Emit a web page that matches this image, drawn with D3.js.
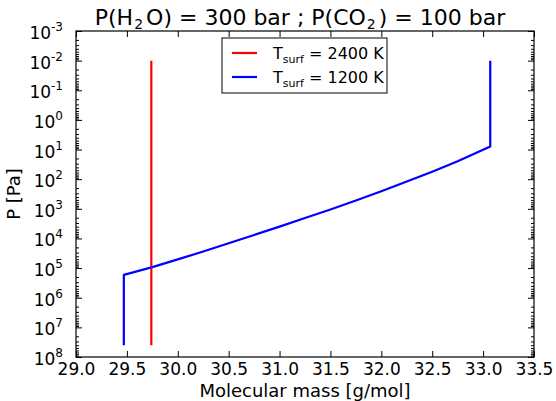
<!doctype html>
<html lang="en">
<head>
    <meta charset="utf-8" />
    <title>Molecular mass profile</title>
    <script src="https://d3js.org/d3.v7.min.js"></script>
    <style>
        body { margin: 0; background: #fff; }
        text { font-family: "DejaVu Sans", sans-serif; fill: #000; }
    </style>
</head>
<body>

<script>
// Tsurf = 2400 K : constant molecular mass
let hotMass = [29.74, 29.74]
let hotP    = [1e-2, 4e7]

// Tsurf = 1200 K : well mixed at depth, rising mass towards top
let coldMass = [29.47, 29.47, 29.75, 30.0, 30.25, 30.5, 30.75, 31.0, 31.25, 31.5, 31.75, 32.0, 32.25, 32.5, 32.75, 33.07, 33.07]
let coldP    = [4e7, 1.7e5, 9.3e4, 5.1e4, 2.75e4, 1.45e4, 7.6e3, 4.0e3, 2.05e3, 1.05e3, 525, 257, 120, 56, 25, 7.9, 1e-2]

let xTicks = [29.0, 29.5, 30.0, 30.5, 31.0, 31.5, 32.0, 32.5, 33.0, 33.5]
let yExps  = [-3, -2, -1, 0, 1, 2, 3, 4, 5, 6, 7, 8]

let width = 556,
    height = 401,
    pl = 76, pr = 534, pt = 31, pb = 357;

let svg = d3.select("body").append("svg")
    .attr("width", width)
    .attr("height", height);

let x = d3.scaleLinear().domain([29, 33.5]).range([pl, pr])
let y = d3.scaleLog().domain([1e-3, 1e8]).range([pt, pb])

// minor ticks for the log axis
let minor = []
yExps.slice(0, -1).forEach(e => {
    for (let k = 2; k < 10; k++) minor.push(k * Math.pow(10, e))
})

let axes = svg.append("g")

function styleAxis(g) {
    g.select(".domain").remove()
    g.selectAll("line").attr("stroke", "#000").attr("stroke-width", 1)
}

// x axes, ticks pointing inward
axes.append("g")
    .attr("transform", `translate(0,${pb})`)
    .call(d3.axisBottom(x).tickValues(xTicks).tickSize(-6).tickPadding(6).tickFormat(d3.format(".1f")))
    .call(styleAxis)
    .selectAll("text").style("font-size", "17px").attr("font-family", null);
axes.append("g")
    .attr("transform", `translate(0,${pt})`)
    .call(d3.axisTop(x).tickValues(xTicks).tickSize(-6).tickFormat(""))
    .call(styleAxis);

// y axes, major + minor
let yMajor = yExps.map(e => Math.pow(10, e))
axes.append("g").attr("transform", `translate(${pl},0)`)
    .call(d3.axisLeft(y).tickValues(yMajor).tickSize(-6).tickFormat(""))
    .call(styleAxis);
axes.append("g").attr("transform", `translate(${pl},0)`)
    .call(d3.axisLeft(y).tickValues(minor).tickSize(-3).tickFormat(""))
    .call(styleAxis);
axes.append("g").attr("transform", `translate(${pr},0)`)
    .call(d3.axisRight(y).tickValues(yMajor).tickSize(-6).tickFormat(""))
    .call(styleAxis);
axes.append("g").attr("transform", `translate(${pr},0)`)
    .call(d3.axisRight(y).tickValues(minor).tickSize(-3).tickFormat(""))
    .call(styleAxis);

// y tick labels as 10^n
let yl = svg.append("g")
yExps.forEach(e => {
    let t = yl.append("text")
        .attr("x", 63)
        .attr("y", y(Math.pow(10, e)) + 8)
        .attr("text-anchor", "end")
        .style("font-size", "17px")
    t.append("tspan").text("10")
    t.append("tspan").attr("dy", -8).style("font-size", "12px").text(e < 0 ? "-" + (-e) : e)
})

// frame
svg.append("rect")
    .attr("x", pl).attr("y", pt)
    .attr("width", pr - pl).attr("height", pb - pt)
    .attr("fill", "none").attr("stroke", "#000").attr("stroke-width", 1.2)

let line = d3.line().x(d => x(d[0])).y(d => y(d[1]))

svg.append("path")
    .datum(hotMass.map((m, i) => [m, hotP[i]]))
    .attr("d", line)
    .attr("fill", "none").attr("stroke", "#ff0000").attr("stroke-width", 2.2)

svg.append("path")
    .datum(coldMass.map((m, i) => [m, coldP[i]]))
    .attr("d", line)
    .attr("fill", "none").attr("stroke", "#0000ff").attr("stroke-width", 2.2)

// title
let title = svg.append("text")
    .attr("x", 300).attr("y", 25)
    .attr("text-anchor", "middle")
    .style("font-size", "22px")
title.append("tspan").text("P(H")
title.append("tspan").attr("dy", 4).attr("dx", 1).style("font-size", "14px").text("2")
title.append("tspan").attr("dy", -4).attr("dx", 3).text("O) = 300 bar ; P(CO")
title.append("tspan").attr("dy", 4).attr("dx", 1).style("font-size", "14px").text("2")
title.append("tspan").attr("dy", -4).attr("dx", 3).text(") = 100 bar")

// axis labels
svg.append("text")
    .attr("x", (pl + pr) / 2).attr("y", 397)
    .attr("text-anchor", "middle")
    .style("font-size", "18px")
    .text("Molecular mass [g/mol]")

svg.append("text")
    .attr("transform", `translate(20,${(pt + pb) / 2}) rotate(-90)`)
    .attr("text-anchor", "middle")
    .style("font-size", "18px")
    .text("P [Pa]")

// legend
let legend = svg.append("g")
legend.append("rect")
    .attr("x", 222).attr("y", 38).attr("width", 165).attr("height", 55)
    .attr("fill", "#fff").attr("stroke", "#000").attr("stroke-width", 1)

let legendItems = [["2400", "#ff0000"], ["1200", "#0000ff"]]
legendItems.forEach((d, i) => {
    let ly = 53 + i * 24
    legend.append("line")
        .attr("x1", 232).attr("x2", 257).attr("y1", ly).attr("y2", ly)
        .attr("stroke", d[1]).attr("stroke-width", 2.2)
    let t = legend.append("text")
        .attr("x", 273).attr("y", ly + 6)
        .style("font-size", "16px")
    t.append("tspan").text("T")
    t.append("tspan").attr("dy", 4).style("font-size", "11px").text("surf")
    t.append("tspan").attr("dy", -4).text(" = " + d[0] + " K")
})
</script>

</body>
</html>
